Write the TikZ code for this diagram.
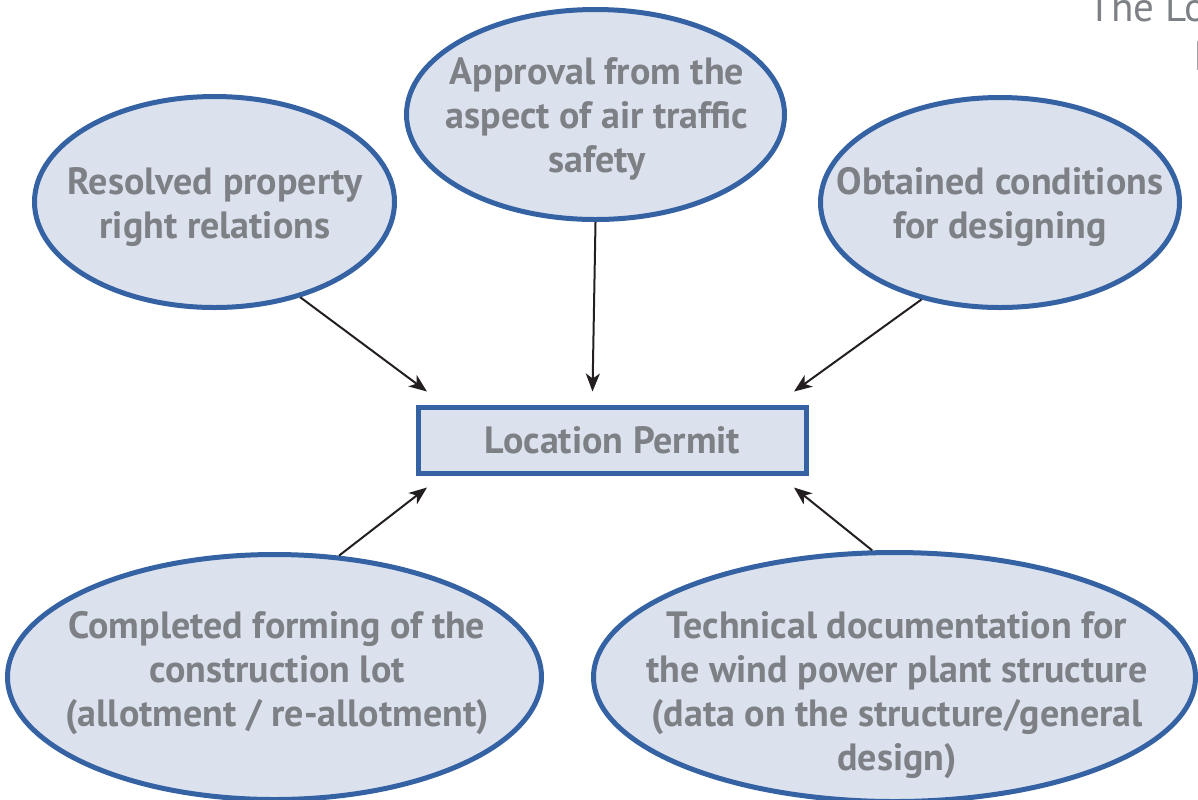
\documentclass[tikz,border=0pt]{standalone}
\usepackage{fontspec}
\setmainfont{PT Sans}
\usetikzlibrary{arrows.meta,shapes.geometric}
\definecolor{bubblefill}{HTML}{DCE1EE}
\definecolor{bubbleline}{HTML}{3562A3}
\definecolor{labelgray}{HTML}{7D8085}
\definecolor{arrowink}{HTML}{231F20}
\tikzset{
  bubble/.style={ellipse,draw=bubbleline,fill=bubblefill,line width=2.5pt,inner sep=0pt},
  permitbox/.style={rectangle,draw=bubbleline,fill=bubblefill,line width=2.5pt,minimum width=194pt,minimum height=33pt},
  bubbletext/.style={text=labelgray,font=\fontsize{19}{22}\selectfont\bfseries,align=center},
  headtext/.style={text=labelgray,font=\fontsize{20.5}{24}\selectfont,anchor=base west,inner sep=0pt},
  feed/.style={draw=arrowink,line width=1pt,-{Stealth[length=9pt,width=7pt,inset=2.5pt]}}
}
\begin{document}
\begin{tikzpicture}[x=0.5pt,y=-0.5pt]
\useasboundingbox (0,0) rectangle (1198,799);
\clip (0,0) rectangle (1198,799);
\node[headtext] (title) at (1088,21) {The Lo};
\node[headtext] (titlenext) at (1193,70) {I};
\node[bubble,minimum width=180pt,minimum height=105.5pt] (res) at (214.5,202) {};
\node[bubble,minimum width=189pt,minimum height=105pt] (app) at (595.5,114.5) {};
\node[bubble,minimum width=179.5pt,minimum height=105pt] (obt) at (1000,202.5) {};
\node[bubble,minimum width=267pt,minimum height=122.5pt] (lot) at (274.5,677) {};
\node[bubble,minimum width=301pt,minimum height=124.5pt] (doc) at (894.5,677) {};
\node[bubbletext] (resT) at (215,207) {Resolved property\\right relations};
\node[bubbletext] (appT) at (597,119) {Approval from the\\aspect of air traffic\\safety};
\node[bubbletext] (obtT) at (1000,207) {Obtained conditions\\for designing};
\node[bubbletext] (lotT) at (277,673) {Completed forming of the\\construction lot\\(allotment / re-allotment)};
\node[bubbletext] (docT) at (897,695) {Technical documentation for\\the wind power plant structure\\(data on the structure/general\\design)};
\node[permitbox,bubbletext] (permit) at (612.5,440) {Location Permit};
\coordinate (inNW) at ([shift={(11,-13)}]permit.north west);
\coordinate (inN) at ([shift={(-20,-13)}]permit.north);
\coordinate (inNE) at ([shift={(-15,-13)}]permit.north east);
\coordinate (inSW) at ([shift={(11,12)}]permit.south west);
\coordinate (inSE) at ([shift={(-15,12)}]permit.south east);
\draw[feed] (res.-48) -- (inNW);
\draw[feed] (app.south) -- (inN);
\draw[feed] (obt.-129) -- (inNE);
\draw[feed] (lot.62) -- (inSW);
\draw[feed] (doc.100) -- (inSE);
\end{tikzpicture}
\end{document}
